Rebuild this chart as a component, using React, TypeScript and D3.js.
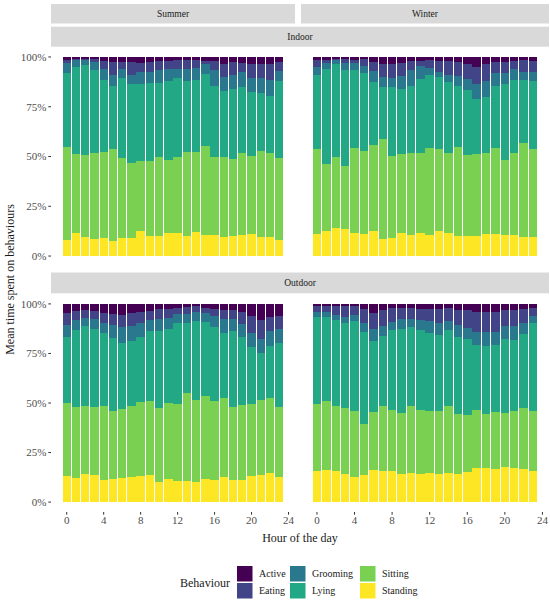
import React from "react";
import * as d3 from "d3";

const behaviours = ["Active", "Eating", "Grooming", "Lying", "Sitting", "Standing"];
const colours = ["#440154", "#414487", "#2A788E", "#22A884", "#7AD151", "#FDE725"];
const hours = d3.range(0, 24);
const seasons = ["Summer", "Winter"];
const locations = ["Indoor", "Outdoor"];
const xTicks = [0, 4, 8, 12, 16, 20, 24];
const yTicks = [0, 0.25, 0.5, 0.75, 1];
const yTickLabels = ["0%", "25%", "50%", "75%", "100%"];

// Summer – Indoor (percent per hour)
const siStanding = [8.0,11.4,9.6,8.7,9.2,7.7,9.2,8.9,12.4,10.0,10.2,11.6,11.6,10.0,11.9,10.7,10.7,9.7,9.9,10.6,11.2,9.6,9.6,8.2];
const siSitting = [46.7,39.9,41.4,43.1,43.3,46.2,39.8,37.6,35.4,37.8,39.5,36.7,37.9,42.2,40.3,44.8,39.3,39.8,38.6,41.2,39.3,43.4,42.2,41.0];
const siLying = [37.4,43.8,44.8,41.5,36.1,31.3,40.3,39.7,38.4,39.3,37.4,39.8,39.8,35.9,36.4,36.1,35.6,33.6,35.6,33.3,31.9,29.0,28.6,38.6];
const siGrooming = [4.9,3.2,2.9,4.0,5.5,5.7,4.8,4.7,6.2,5.3,6.5,6.0,4.8,6.0,6.0,4.9,7.7,7.0,6.8,7.3,7.2,7.6,8.2,5.3];
const siEating = [1.7,0.7,0.3,1.5,4.1,6.8,3.6,6.6,4.6,4.9,4.6,4.1,4.4,4.4,3.9,1.7,4.7,6.5,6.6,4.7,7.0,6.9,7.7,4.6];
const siActive = [1.3,1.0,1.0,1.2,1.8,2.3,2.3,2.5,3.0,2.7,1.8,1.8,1.5,1.5,1.5,1.8,2.0,3.4,2.5,2.9,3.4,3.5,3.7,2.3];

// Winter – Indoor
const wiStanding = [11.2,12.6,14.2,13.6,11.6,11.1,12.6,8.7,9.0,11.6,10.6,11.4,10.6,12.7,11.6,10.0,9.9,10.0,11.1,11.1,10.6,10.6,9.4,9.5];
const wiSitting = [42.6,33.6,35.5,31.6,42.8,41.7,43.0,50.1,41.3,39.7,41.0,40.2,43.7,40.9,40.0,44.6,40.7,41.3,40.5,43.3,37.6,41.0,47.2,44.3];
const wiLying = [37.2,47.8,46.8,48.3,39.2,39.2,31.8,26.0,34.5,32.6,34.0,37.2,36.7,36.5,35.8,31.0,32.6,27.6,28.3,31.0,38.2,36.7,31.7,34.0];
const wiGrooming = [4.1,3.2,1.8,3.3,3.2,3.3,5.4,5.2,4.8,6.6,7.7,6.5,3.3,2.2,3.6,4.9,5.6,7.5,8.0,6.6,5.6,5.5,4.2,4.7];
const wiEating = [3.6,1.5,0.9,2.0,1.9,3.7,4.7,6.6,7.0,6.5,4.5,2.5,4.4,5.7,7.0,7.0,7.8,8.6,8.7,5.5,5.5,4.2,6.2,5.3];
const wiActive = [1.3,1.3,0.8,1.2,1.3,1.0,2.5,3.4,3.4,3.0,2.2,2.2,1.3,2.0,2.0,2.5,3.4,5.0,3.4,2.5,2.5,2.0,1.3,2.2];

// Summer – Outdoor
const soStanding = [13.2,12.0,14.2,13.5,11.3,11.8,12.1,12.8,13.0,13.5,10.1,11.6,10.5,10.8,10.1,11.6,11.0,12.5,11.1,11.3,13.2,13.7,14.7,12.5];
const soSitting = [36.9,35.9,34.4,34.6,37.4,34.4,35.1,35.8,37.4,37.6,37.3,38.3,39.2,44.3,41.5,42.0,39.9,40.0,36.8,37.8,36.2,37.9,37.9,35.6];
const soLying = [33.0,39.1,40.3,39.4,36.6,36.8,33.1,32.7,32.9,35.2,39.1,37.5,40.5,35.5,39.8,37.1,37.6,32.7,38.3,34.2,28.7,23.6,26.2,32.0];
const soGrooming = [6.1,4.9,4.0,4.7,5.3,6.4,8.2,7.4,6.9,5.6,6.1,5.5,4.7,4.3,4.4,4.7,5.4,7.0,6.2,6.4,7.2,7.1,7.5,7.3];
const soEating = [6.2,4.6,4.1,4.4,4.8,5.4,5.9,6.6,5.8,4.7,4.7,4.4,3.2,3.4,2.9,2.7,3.4,4.8,4.4,6.3,8.5,9.4,7.1,6.4];
const soActive = [4.6,3.5,3.0,3.4,4.6,5.2,5.6,4.7,4.0,3.4,2.7,2.7,1.9,1.7,1.3,1.9,2.7,3.0,3.2,4.0,6.2,8.3,6.6,6.2];

// Winter – Outdoor
const woStanding = [15.9,16.4,15.9,14.0,12.5,13.7,16.0,15.7,15.5,14.3,14.5,14.0,14.8,14.3,14.8,14.0,15.0,17.2,17.4,16.7,17.5,17.2,16.7,15.9];
const woSitting = [33.8,34.7,32.8,33.4,33.4,25.6,29.7,32.9,31.0,30.7,34.2,32.5,31.1,31.6,33.8,30.7,28.7,29.5,27.3,28.6,27.5,28.7,30.9,30.0];
const woLying = [43.9,42.5,43.0,43.0,45.5,46.7,35.6,35.4,40.2,42.2,39.5,40.3,39.6,38.6,38.2,38.8,38.4,32.6,34.2,34.0,37.5,35.7,37.4,44.5];
const woGrooming = [2.5,2.5,2.7,3.0,2.9,4.2,5.9,4.9,4.2,5.0,4.0,4.9,5.7,6.1,4.8,5.7,5.8,6.4,7.1,6.7,6.5,7.3,5.4,3.7];
const woEating = [2.9,2.6,4.3,5.3,4.4,7.4,8.2,8.2,6.9,5.8,5.8,5.9,6.4,7.0,6.2,7.9,9.1,10.3,9.8,9.8,7.8,8.1,7.2,4.0];
const woActive = [1.0,1.3,1.3,1.3,1.3,2.4,4.6,2.9,2.2,2.0,2.0,2.4,2.4,2.4,2.2,2.9,3.0,4.0,4.2,4.2,3.2,3.0,2.4,1.9];

type Panel = { season: string; location: string; series: number[][] };

const panels: Panel[] = [
  { season: "Summer", location: "Indoor", series: [siActive, siEating, siGrooming, siLying, siSitting, siStanding] },
  { season: "Winter", location: "Indoor", series: [wiActive, wiEating, wiGrooming, wiLying, wiSitting, wiStanding] },
  { season: "Summer", location: "Outdoor", series: [soActive, soEating, soGrooming, soLying, soSitting, soStanding] },
  { season: "Winter", location: "Outdoor", series: [woActive, woEating, woGrooming, woLying, woSitting, woStanding] },
];

const FONT = "'Liberation Serif', 'DejaVu Serif', serif";
const W = 550;
const H = 602;
const colX: [number, number][] = [[51, 295], [301, 549]];
const rowY: [number, number][] = [[47, 266], [294, 512]];
const stripGrey = "#D9D9D9";
const textCol = "#1A1A1A";
const axisCol = "#333333";

function PanelView({ p }: { p: Panel }) {
  const ci = seasons.indexOf(p.season);
  const ri = locations.indexOf(p.location);
  const [x0, x1] = colX[ci];
  const [y0, y1] = rowY[ri];
  const x = d3.scaleLinear().domain([-1.7, 24.7]).range([x0, x1]);
  const y = d3.scaleLinear().domain([-0.05, 1.05]).range([y1, y0]);
  // stack bottom-up: Standing, Sitting, Lying, Grooming, Eating, Active
  const keys = [...behaviours].reverse();
  const rows = hours.map((h, i) => {
    const o: Record<string, number> = { hour: h };
    behaviours.forEach((b, k) => {
      o[b] = p.series[k][i];
    });
    return o;
  });
  const stack = d3.stack<Record<string, number>>().keys(keys).offset(d3.stackOffsetExpand);
  const layers = stack(rows);
  const bw = 0.9;
  return (
    <g>
      {layers.map((layer) => {
        const col = colours[behaviours.indexOf(layer.key)];
        return (
          <g key={layer.key} fill={col}>
            {layer.map((seg, i) => (
              <rect
                key={i}
                x={x(hours[i] - bw / 2)}
                width={x(bw) - x(0)}
                y={y(seg[1])}
                height={Math.max(0, y(seg[0]) - y(seg[1]))}
                shapeRendering="crispEdges"
              />
            ))}
          </g>
        );
      })}
      {ci === 0 &&
        yTicks.map((t, i) => (
          <g key={t}>
            <line x1={x0 - 2.7} x2={x0} y1={y(t)} y2={y(t)} stroke={axisCol} strokeWidth={1} />
            <text x={x0 - 4.5} y={y(t)} dy="0.35em" textAnchor="end" fontSize={11} fill="#4D4D4D" fontFamily={FONT}>
              {yTickLabels[i]}
            </text>
          </g>
        ))}
      {ri === 1 &&
        xTicks.map((t) => (
          <g key={t}>
            <line x1={x(t)} x2={x(t)} y1={y1} y2={y1 + 2.7} stroke={axisCol} strokeWidth={1} />
            <text x={x(t)} y={y1 + 12} textAnchor="middle" fontSize={11} fill="#4D4D4D" fontFamily={FONT}>
              {t}
            </text>
          </g>
        ))}
    </g>
  );
}

function Strip({ x0, x1, y0, y1, label }: { x0: number; x1: number; y0: number; y1: number; label: string }) {
  return (
    <g>
      <rect x={x0} y={y0} width={x1 - x0} height={y1 - y0} fill={stripGrey} />
      <text x={(x0 + x1) / 2} y={(y0 + y1) / 2} dy="0.35em" textAnchor="middle" fontSize={9.5} fill={textCol} fontFamily={FONT}>
        {label}
      </text>
    </g>
  );
}

export default function App() {
  const legendCols = [237, 290, 360];
  const legendRows = [566, 583];
  return (
    <svg width={W} height={H} style={{ position: "absolute", left: 0, top: 0, background: "#fff" }}>
      <rect width={W} height={H} fill="#fff" />
      {seasons.map((s, i) => (
        <Strip key={s} x0={colX[i][0]} x1={colX[i][1]} y0={4} y1={23.5} label={s} />
      ))}
      <Strip x0={colX[0][0]} x1={colX[1][1]} y0={26.7} y1={46.7} label={locations[0]} />
      <Strip x0={colX[0][0]} x1={colX[1][1]} y0={272.5} y1={293.3} label={locations[1]} />
      {panels.map((p) => (
        <PanelView key={p.season + p.location} p={p} />
      ))}
      <text
        transform={`translate(10, ${(rowY[0][0] + rowY[1][1]) / 2}) rotate(-90)`}
        textAnchor="middle"
        dy="0.35em"
        fontSize={12}
        fill={textCol}
        fontFamily={FONT}
      >
        Mean time spent on behaviours
      </text>
      <text x={(colX[0][0] + colX[1][1]) / 2} y={538} dy="0.35em" textAnchor="middle" fontSize={12} fill={textCol} fontFamily={FONT}>
        Hour of the day
      </text>
      <text x={180} y={582.5} dy="0.35em" fontSize={12} fill={textCol} fontFamily={FONT}>
        Behaviour
      </text>
      {behaviours.map((b, i) => {
        const cx = legendCols[Math.floor(i / 2)];
        const cy = legendRows[i % 2];
        return (
          <g key={b}>
            <rect x={cx} y={cy} width={15.5} height={15.5} fill={colours[i]} />
            <text x={cx + 22} y={cy + 7.8} dy="0.35em" fontSize={10} fill={textCol} fontFamily={FONT}>
              {b}
            </text>
          </g>
        );
      })}
    </svg>
  );
}
